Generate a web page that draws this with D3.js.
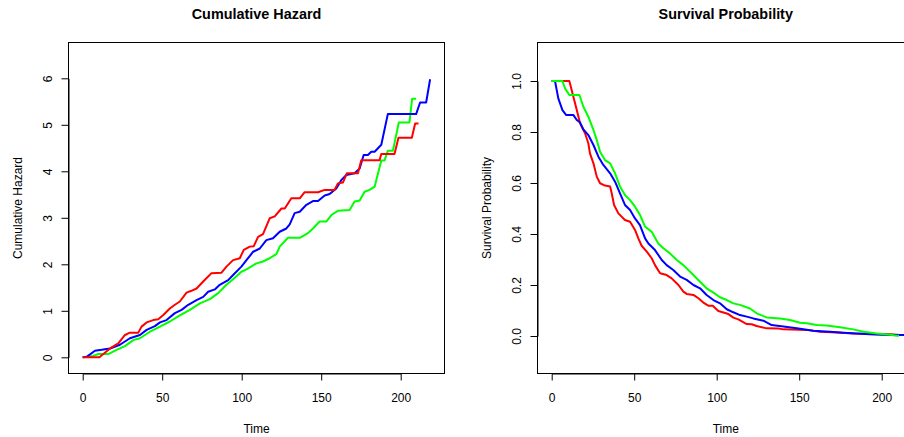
<!DOCTYPE html>
<html><head><meta charset="utf-8">
<script src="https://cdn.jsdelivr.net/npm/d3@7"></script>
<style>
body{margin:0;background:#fff}
text{font-family:"Liberation Sans",Arial,Helvetica,sans-serif;fill:#000}
</style>
</head><body>
<svg id="chart" width="904" height="437"></svg>
<script>
// ---------- DATA ----------
const timeTicks = [0, 50, 100, 150, 200];
const hazardTicks = [0, 1, 2, 3, 4, 5, 6];
const survivalTicks = [0.0, 0.2, 0.4, 0.6, 0.8, 1.0];
const groupNames = ["red", "blue", "green"];

// Cumulative hazard: [time, value]
const hazardRed = [[0,0],[10.5,0],[17.2,0.19],[22.4,0.30],[26.6,0.48],[29.7,0.53],[35.0,0.53],[37.0,0.66],[40.2,0.75],[44.4,0.80],[47.5,0.82],[50.7,0.91],[54.8,1.05],[58.0,1.13],[61.1,1.20],[65.3,1.39],[68.4,1.43],[71.6,1.48],[75.8,1.63],[81.0,1.81],[87.3,1.82],[90.4,1.95],[94.6,2.09],[98.8,2.13],[101.3,2.31],[105.1,2.38],[107.6,2.39],[110.3,2.59],[113.4,2.65],[117.6,2.99],[120.8,3.03],[125.0,3.20],[127.1,3.20],[131.2,3.42],[136.5,3.42],[139.6,3.55],[148.0,3.55],[152.2,3.60],[158.4,3.60],[160.5,3.74],[163.7,3.76],[166.2,3.96],[173.1,3.96],[175.2,4.24],[186.7,4.24],[187.8,4.37],[196.1,4.37],[198.6,4.72],[207.0,4.72],[209.1,5.03],[211.2,5.03]];
const hazardBlue = [[0,0],[2.5,0.01],[7.7,0.14],[11.9,0.16],[17.2,0.19],[23.4,0.27],[29.7,0.41],[36.0,0.48],[40.2,0.59],[45.4,0.67],[48.6,0.75],[52.7,0.80],[58.0,0.95],[62.2,1.02],[66.4,1.13],[71.6,1.23],[75.8,1.30],[78.9,1.41],[83.1,1.46],[86.2,1.56],[91.5,1.66],[94.6,1.77],[99.8,1.95],[103.0,2.09],[107.2,2.27],[111.4,2.34],[115.5,2.52],[119.7,2.56],[123.9,2.70],[128.1,2.77],[130.2,2.86],[133.3,3.10],[136.5,3.13],[140.7,3.28],[144.8,3.36],[148.0,3.36],[152.2,3.48],[155.3,3.51],[159.5,3.63],[162.6,3.81],[165.8,3.92],[171.0,3.96],[174.2,4.06],[176.7,4.35],[179.4,4.35],[181.5,4.42],[183.6,4.42],[187.8,4.57],[191.9,5.23],[209.7,5.23],[212.2,5.48],[216.0,5.48],[218.5,5.98]];
const hazardGreen = [[0,0],[6.7,0.03],[9.8,0.07],[16.1,0.07],[21.3,0.16],[26.6,0.24],[31.8,0.37],[36.0,0.41],[42.3,0.55],[48.6,0.66],[54.8,0.77],[61.1,0.90],[67.4,1.02],[73.7,1.16],[80.0,1.25],[85.2,1.38],[90.4,1.56],[94.6,1.68],[99.8,1.84],[103.0,1.89],[109.3,2.02],[113.4,2.06],[117.6,2.13],[121.8,2.22],[123.9,2.38],[129.1,2.57],[136.5,2.57],[141.7,2.67],[144.8,2.77],[149.0,2.92],[153.2,2.92],[156.4,3.06],[160.5,3.15],[167.9,3.17],[171.0,3.35],[174.2,3.37],[177.3,3.56],[180.4,3.60],[183.6,3.67],[187.8,4.23],[189.8,4.23],[191.9,4.44],[195.1,4.44],[198.8,5.05],[205.5,5.05],[207.2,5.56],[209.7,5.56]];

// Survival probability: [time, value]
const survivalRed = [[0,1.0],[10.7,1.0],[13.1,0.939],[15.2,0.886],[17.2,0.834],[20.2,0.795],[22.2,0.756],[23.2,0.716],[25.3,0.677],[27.3,0.625],[29.3,0.599],[32.3,0.590],[35.4,0.586],[36.4,0.559],[37.8,0.514],[40.4,0.481],[44.4,0.455],[47.5,0.448],[50.5,0.416],[52.5,0.383],[54.5,0.354],[57.6,0.331],[60.6,0.305],[62.6,0.278],[65.7,0.246],[69.7,0.239],[72.7,0.226],[76.8,0.200],[79.8,0.174],[81.8,0.165],[85.9,0.161],[88.9,0.148],[91.9,0.131],[94.9,0.119],[97.6,0.119],[101.0,0.098],[107.1,0.086],[110.1,0.072],[113.1,0.065],[118.2,0.047],[121.2,0.046],[124.2,0.039],[130.3,0.030],[137.4,0.029],[140.4,0.026],[154.5,0.024],[162.6,0.017],[172.7,0.014],[182.8,0.010],[188.9,0.009],[197.0,0.007],[205.1,0.007],[211.1,0.004]];
const survivalBlue = [[0,1.0],[2.0,1.0],[4.0,0.932],[6.5,0.886],[8.7,0.867],[13.1,0.867],[15.2,0.847],[17.2,0.837],[19.2,0.810],[22.2,0.788],[25.3,0.749],[28.3,0.703],[31.3,0.671],[35.4,0.638],[38.4,0.605],[41.4,0.559],[44.4,0.514],[47.5,0.494],[50.5,0.461],[53.5,0.435],[56.6,0.383],[58.6,0.363],[62.6,0.337],[66.7,0.298],[69.7,0.278],[73.7,0.259],[77.8,0.233],[81.8,0.220],[85.9,0.200],[89.9,0.187],[93.9,0.161],[98.0,0.141],[102.0,0.128],[106.1,0.105],[110.1,0.093],[114.1,0.082],[118.2,0.076],[122.2,0.069],[128.3,0.060],[133.3,0.043],[140.4,0.037],[148.5,0.030],[158.6,0.021],[168.7,0.017],[176.8,0.013],[184.8,0.010],[192.9,0.007],[201.0,0.005],[209.1,0.004],[218.5,0.003]];
const survivalGreen = [[0,1.0],[6.5,1.0],[8.1,0.971],[10.7,0.945],[16.8,0.945],[19.2,0.899],[22.2,0.860],[25.3,0.808],[27.3,0.769],[29.3,0.723],[32.3,0.690],[35.4,0.677],[38.4,0.638],[41.4,0.586],[44.4,0.553],[47.5,0.533],[50.5,0.507],[53.5,0.475],[56.6,0.429],[60.6,0.409],[64.6,0.363],[67.7,0.344],[71.7,0.324],[75.8,0.298],[79.8,0.278],[84.8,0.246],[89.9,0.213],[93.9,0.187],[98.0,0.170],[102.0,0.152],[106.1,0.141],[110.1,0.128],[114.1,0.122],[120.2,0.108],[124.2,0.089],[130.3,0.073],[138.4,0.069],[144.4,0.063],[150.5,0.052],[154.5,0.050],[160.6,0.043],[166.7,0.041],[174.7,0.034],[182.8,0.026],[188.9,0.017],[197.0,0.010],[205.1,0.005],[209.1,0.001],[210.5,0.001]];

// ---------- DRAW ----------
const colorOf = {red: "#ff0000", blue: "#0000ff", green: "#00ff00"};
const svg = d3.select("#chart");

function panel(cfg) {
  const g = svg.append("g");
  const {box, x, y} = cfg;
  const clipId = "clip" + cfg.id;
  svg.append("clipPath").attr("id", clipId).append("rect")
    .attr("x", box.l).attr("y", box.t).attr("width", box.r - box.l).attr("height", box.b - box.t);

  const line = d3.line().x(d => x(d[0])).y(d => y(d[1]));
  const lg = g.append("g").attr("clip-path", `url(#${clipId})`);
  cfg.order.forEach(name => {
    lg.append("path").datum(cfg.series[name])
      .attr("d", line).attr("fill", "none")
      .attr("stroke", colorOf[name]).attr("stroke-width", 2)
      .attr("stroke-linejoin", "round");
  });

  // frame
  g.append("rect").attr("x", box.l).attr("y", box.t)
    .attr("width", box.r - box.l).attr("height", box.b - box.t)
    .attr("fill", "none").attr("stroke", "#000").attr("stroke-width", 1);

  // x axis
  const xa = g.append("g").attr("transform", `translate(0,${box.b})`)
    .call(d3.axisBottom(x).tickValues(timeTicks).tickSize(7).tickSizeOuter(0).tickFormat(d3.format("d")));
  xa.selectAll("path,line").attr("stroke", "#000");
  xa.selectAll("text").attr("y", 24).attr("dy", "0.35em").style("font-size", "12px").attr("fill", "#000");

  // y axis
  const ya = g.append("g").attr("transform", `translate(${box.l},0)`)
    .call(d3.axisLeft(y).tickValues(cfg.yTicks).tickSize(7).tickSizeOuter(0).tickFormat(cfg.yFmt));
  ya.selectAll("path,line").attr("stroke", "#000");
  ya.selectAll("text").remove();
  ya.selectAll(".tick").append("text")
    .attr("transform", "translate(-20.5,0) rotate(-90)")
    .attr("text-anchor", "middle").attr("dy", "0.35em")
    .style("font-size", "12px").text(cfg.yFmt);

  const cx = (box.l + box.r) / 2, cy = (box.t + box.b) / 2;
  g.append("text").attr("x", cx).attr("y", 14).attr("dy", "0.35em")
    .attr("text-anchor", "middle").style("font-size", "14.4px").style("font-weight", "bold")
    .text(cfg.title);
  g.append("text").attr("x", cx).attr("y", box.b + 55).attr("dy", "0.35em")
    .attr("text-anchor", "middle").style("font-size", "12px").text("Time");
  g.append("text").attr("transform", `translate(${box.l - 51},${cy}) rotate(-90)`)
    .attr("text-anchor", "middle").attr("dy", "0.35em")
    .style("font-size", "12px").text(cfg.ylab);
}

panel({
  id: 1, title: "Cumulative Hazard", ylab: "Cumulative Hazard",
  box: {l: 68.5, r: 444.5, t: 42.5, b: 373.5},
  x: d3.scaleLinear().domain([0, 200]).range([82.7, 400.7]),
  y: d3.scaleLinear().domain([0, 6]).range([357.3, 78.3]),
  yTicks: hazardTicks, yFmt: d3.format("d"),
  series: {red: hazardRed, blue: hazardBlue, green: hazardGreen},
  order: ["green", "blue", "red"]
});

panel({
  id: 2, title: "Survival Probability", ylab: "Survival Probability",
  box: {l: 537.5, r: 914, t: 42.5, b: 373.5},
  x: d3.scaleLinear().domain([0, 200]).range([551.7, 881.7]),
  y: d3.scaleLinear().domain([0, 1]).range([336, 81]),
  yTicks: survivalTicks, yFmt: d3.format(".1f"),
  series: {red: survivalRed, blue: survivalBlue, green: survivalGreen},
  order: ["red", "blue", "green"]
});
</script>
</body></html>
